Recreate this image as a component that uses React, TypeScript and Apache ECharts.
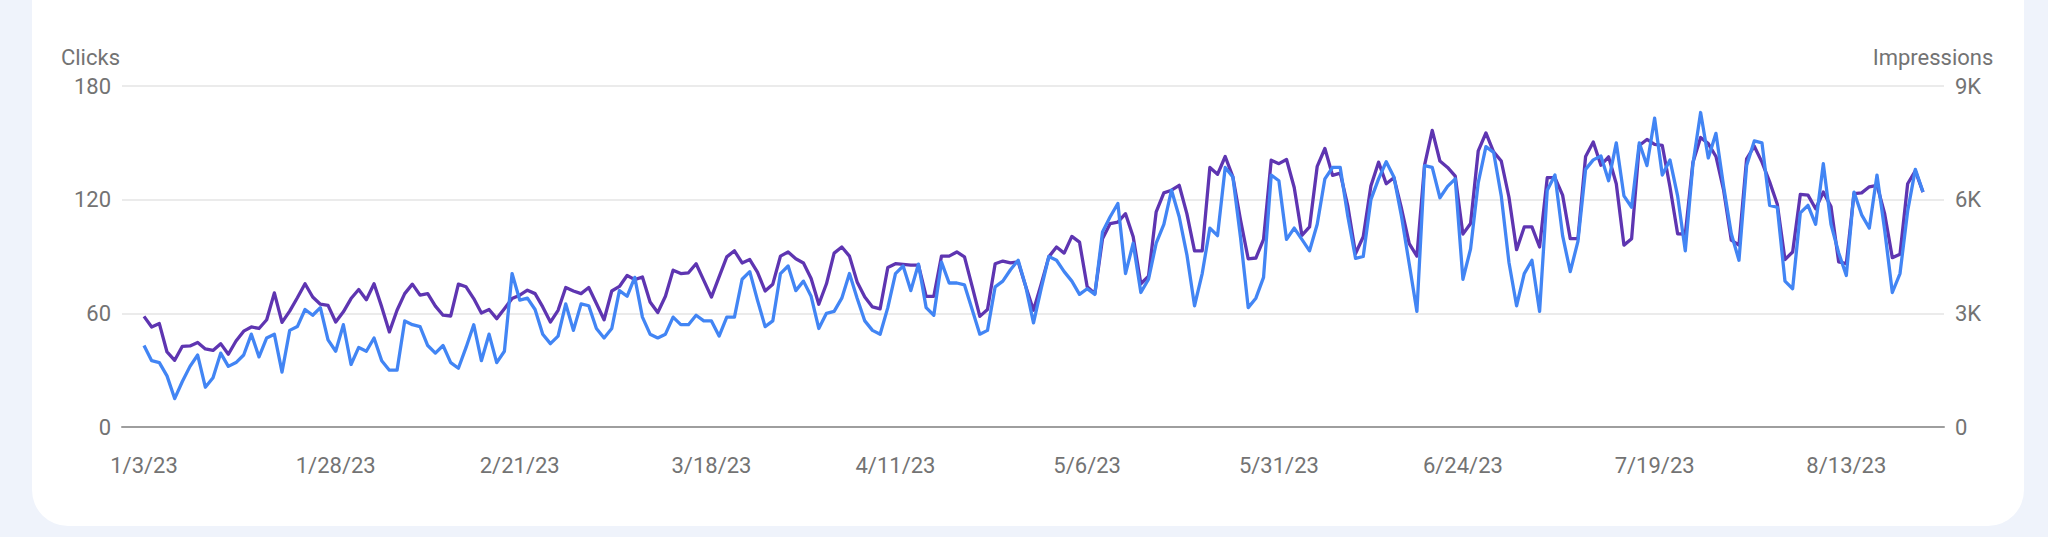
import { useEffect, useRef } from "react";
import * as echarts from "echarts";

// daily series, Jan 3 2023 -> Aug 23 2023
const START_DATE = [2023, 0, 3];

const TICK_LABELS = [
  "1/3/23", "1/28/23", "2/21/23", "3/18/23", "4/11/23",
  "5/6/23", "5/31/23", "6/24/23", "7/19/23", "8/13/23",
];

const CLICKS = [
  43, 35, 34, 27, 15, 24, 32, 38, 21, 26,
  39, 32, 34, 38, 49, 37, 47, 49, 29, 51,
  53, 62, 59, 63, 46, 40, 54, 33, 42, 40,
  47, 35, 30, 30, 56, 54, 53, 43, 39, 43,
  34, 31, 42, 54, 35, 49, 34, 40, 81, 67,
  68, 62, 49, 44, 48, 65, 51, 65, 64, 52,
  47, 52, 72, 69, 79, 58, 49, 47, 49, 58,
  54, 54, 59, 56, 56, 48, 58, 58, 78, 82,
  67, 53, 56, 81, 85, 72, 77, 69, 52, 60,
  61, 68, 81, 68, 56, 51, 49, 63, 81, 85,
  72, 86, 63, 59, 87, 76, 76, 75, 62, 49,
  51, 74, 77, 83, 88, 74, 55, 73, 90, 88,
  82, 77, 70, 73, 70, 103, 111, 118, 81, 97,
  71, 78, 97, 107, 125, 111, 91, 64, 81, 105,
  101, 137, 132, 100, 63, 68, 79, 133, 130, 99,
  105, 99, 93, 107, 131, 137, 137, 111, 89, 90,
  120, 131, 140, 132, 111, 86, 61, 138, 137, 121,
  127, 131, 78, 94, 129, 148, 145, 122, 87, 64,
  81, 88, 61, 125, 133, 101, 82, 98, 136, 141,
  143, 130, 150, 122, 116, 150, 138, 163, 133, 141,
  122, 93, 139, 166, 142, 155, 127, 102, 88, 138,
  151, 150, 117, 116, 77, 73, 113, 117, 107, 139,
  107, 92, 80, 124, 112, 105, 133, 104, 71, 81,
  114, 136, 124,
];

const IMPRESSIONS = [
  2920, 2640, 2730, 1980, 1760, 2130, 2140, 2230, 2060, 2020,
  2200, 1920, 2270, 2530, 2640, 2600, 2830, 3540, 2760, 3060,
  3410, 3780, 3430, 3240, 3210, 2770, 3040, 3390, 3630, 3360,
  3780, 3170, 2510, 3080, 3520, 3770, 3480, 3520, 3190, 2950,
  2930, 3770, 3700, 3390, 3010, 3100, 2860, 3120, 3390, 3480,
  3610, 3520, 3170, 2770, 3080, 3680, 3590, 3520, 3680, 3260,
  2830, 3590, 3710, 4000, 3890, 3960, 3300, 3020, 3450, 4140,
  4050, 4070, 4310, 3870, 3430, 3960, 4490, 4650, 4330, 4420,
  4090, 3590, 3770, 4510, 4620, 4440, 4330, 3920, 3240, 3780,
  4590, 4750, 4510, 3830, 3430, 3170, 3120, 4210, 4310, 4290,
  4270, 4270, 3450, 3450, 4510, 4510, 4620, 4490, 3710, 2920,
  3100, 4310, 4380, 4330, 4360, 3700, 3080, 3770, 4490, 4750,
  4590, 5030, 4880, 3700, 3520, 4970, 5370, 5410, 5630, 5020,
  3780, 3980, 5680, 6180, 6250, 6380, 5630, 4650, 4650, 6850,
  6670, 7140, 6600, 5460, 4440, 4460, 4950, 7040, 6950, 7060,
  6320, 5060, 5280, 6880, 7350, 6640, 6700, 5820, 4580, 5020,
  6360, 6990, 6420, 6580, 5760, 4840, 4510, 6910, 7830, 7020,
  6850, 6620, 5090, 5370, 7290, 7760, 7260, 7020, 6070, 4680,
  5280, 5280, 4750, 6580, 6580, 6120, 4970, 4970, 7140, 7520,
  6910, 7130, 6420, 4800, 4970, 7430, 7590, 7460, 7430, 6340,
  5100, 5090, 6990, 7640, 7480, 7140, 6250, 4930, 4800, 7080,
  7410, 6990, 6470, 5880, 4420, 4620, 6140, 6120, 5760, 6200,
  5820, 4360, 4310, 6160, 6180, 6340, 6380, 5630, 4470, 4560,
  6420, 6760, 6200,
];

function buildDates(start: number[], count: number) {
  const out: string[] = [];
  const d = new Date(start[0], start[1], start[2]);
  for (let i = 0; i < count; i++) {
    out.push(`${d.getMonth() + 1}/${d.getDate()}/${String(d.getFullYear()).slice(2)}`);
    d.setDate(d.getDate() + 1);
  }
  return out;
}

const FONT = "Roboto";
const LABEL_COLOR = "#737373";

function PerformanceChart() {
  const ref = useRef<HTMLDivElement>(null);

  useEffect(() => {
    if (!ref.current) return;
    const chart = echarts.init(ref.current, undefined, { renderer: "svg" });
    const dates = buildDates(START_DATE, CLICKS.length);

    const gridTop = 86;
    const gridHeight = 341;

    chart.setOption({
      animation: false,
      grid: [
        { left: 122, right: 104, top: gridTop, height: gridHeight },
        { left: 144, right: 125, top: gridTop, height: gridHeight },
      ],
      xAxis: [
        {
          type: "value",
          gridIndex: 0,
          min: 0,
          max: 1,
          axisLine: { show: true, lineStyle: { color: "#9e9e9e", width: 2 } },
          axisTick: { show: false },
          axisLabel: { show: false },
          splitLine: { show: false },
        },
        {
          type: "category",
          gridIndex: 1,
          data: dates,
          boundaryGap: false,
          axisLine: { show: false },
          axisTick: { show: false },
          axisLabel: {
            interval: (_: number, value: string) => TICK_LABELS.includes(value),
            color: LABEL_COLOR,
            fontFamily: FONT,
            fontSize: 22,
            margin: 27,
          },
          splitLine: { show: false },
        },
      ],
      yAxis: [
        {
          type: "value",
          gridIndex: 0,
          position: "left",
          min: 0,
          max: 180,
          interval: 60,
          name: "Clicks",
          nameLocation: "end",
          nameGap: 18,
          nameTextStyle: {
            color: LABEL_COLOR,
            fontFamily: FONT,
            fontSize: 22,
            align: "right",
            padding: [0, 2, 0, 0],
          },
          axisLine: { show: false },
          axisTick: { show: false },
          axisLabel: { color: LABEL_COLOR, fontFamily: FONT, fontSize: 22, margin: 11 },
          splitLine: { lineStyle: { color: "#ebebeb", width: 2 } },
        },
        {
          type: "value",
          gridIndex: 0,
          position: "right",
          min: 0,
          max: 9000,
          interval: 3000,
          name: "Impressions",
          nameLocation: "end",
          nameGap: 18,
          nameTextStyle: {
            color: LABEL_COLOR,
            fontFamily: FONT,
            fontSize: 22,
            align: "center",
            padding: [0, 22, 0, 0],
          },
          axisLine: { show: false },
          axisTick: { show: false },
          axisLabel: {
            color: LABEL_COLOR,
            fontFamily: FONT,
            fontSize: 22,
            margin: 11,
            formatter: (v: number) => (v === 0 ? "0" : `${v / 1000}K`),
          },
          splitLine: { show: false },
        },
        { type: "value", gridIndex: 1, min: 0, max: 180, show: false },
        { type: "value", gridIndex: 1, min: 0, max: 9000, show: false },
      ],
      series: [
        {
          name: "Impressions",
          type: "line",
          xAxisIndex: 1,
          yAxisIndex: 3,
          data: IMPRESSIONS,
          showSymbol: false,
          lineStyle: { color: "#5e35b1", width: 3.3, join: "round" },
          itemStyle: { color: "#5e35b1" },
        },
        {
          name: "Clicks",
          type: "line",
          xAxisIndex: 1,
          yAxisIndex: 2,
          data: CLICKS,
          showSymbol: false,
          lineStyle: { color: "#4285f4", width: 3.3, join: "round" },
          itemStyle: { color: "#4285f4" },
        },
      ],
    });

    return () => {
      chart.dispose();
    };
  }, []);

  return <div ref={ref} style={{ position: "absolute", left: 0, top: 0, width: 2048, height: 537 }} />;
}

export default function App() {
  return (
    <div
      style={{
        position: "fixed",
        inset: 0,
        width: 2048,
        height: 537,
        overflow: "hidden",
        background: "#eff3fb",
      }}
    >
      <div
        style={{
          position: "absolute",
          left: 32,
          top: -40,
          width: 1992,
          height: 566,
          borderRadius: 36,
          background: "#ffffff",
        }}
      />
      <PerformanceChart />
    </div>
  );
}
